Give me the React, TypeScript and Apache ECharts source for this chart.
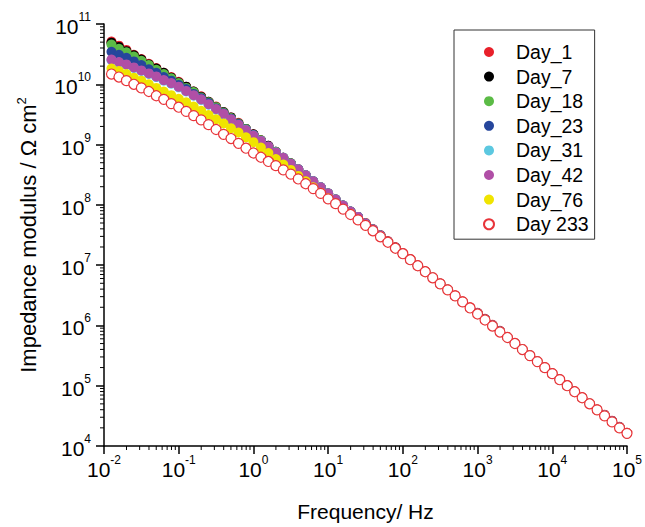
import { useEffect, useRef } from 'react';
import * as echarts from 'echarts';

const FONT = '"Liberation Sans", Arial, sans-serif';

const seriesNames = ['Day_1', 'Day_7', 'Day_18', 'Day_23', 'Day_31', 'Day_42', 'Day_76', 'Day 233'];
const seriesColors = ['#e8202a', '#000000', '#5bbb46', '#26469c', '#5cc8e0', '#b04fa6', '#f0e400', '#e8343a'];

// log10 of frequency (Hz) for each measured point
const freqExponents = [
  -1.9, -1.8, -1.7, -1.6, -1.5, -1.4, -1.3, -1.2, -1.1, -1.0,
  -0.9, -0.8, -0.7, -0.6, -0.5, -0.4, -0.3, -0.2, -0.1, 0.0,
  0.1, 0.2, 0.3, 0.4, 0.5, 0.6, 0.7, 0.8, 0.9, 1.0,
  1.1, 1.2, 1.3, 1.4, 1.5, 1.6, 1.7, 1.8, 1.9, 2.0,
  2.1, 2.2, 2.3, 2.4, 2.5, 2.6, 2.7, 2.8, 2.9, 3.0,
  3.1, 3.2, 3.3, 3.4, 3.5, 3.6, 3.7, 3.8, 3.9, 4.0,
  4.1, 4.2, 4.3, 4.4, 4.5, 4.6, 4.7, 4.8, 4.9, 5.0,
];

// log10 |Z| (Ohm cm2), low-frequency part (10^-1.9 .. 10^1.4 Hz)
const day1Low = [10.71, 10.64, 10.57, 10.49, 10.42, 10.34, 10.27, 10.19, 10.12, 10.04, 9.96, 9.88, 9.80, 9.71, 9.63, 9.54, 9.45, 9.36, 9.26, 9.17, 9.07, 8.98, 8.88, 8.78, 8.69, 8.59, 8.49, 8.39, 8.29, 8.19, 8.09, 7.99, 7.89, 7.80];
const day7Low = [10.69, 10.62, 10.55, 10.48, 10.41, 10.33, 10.26, 10.19, 10.11, 10.03, 9.96, 9.88, 9.79, 9.71, 9.62, 9.54, 9.45, 9.35, 9.26, 9.17, 9.07, 8.98, 8.88, 8.78, 8.69, 8.59, 8.49, 8.39, 8.29, 8.19, 8.09, 7.99, 7.89, 7.80];
const day18Low = [10.66, 10.59, 10.53, 10.46, 10.39, 10.32, 10.24, 10.17, 10.10, 10.02, 9.94, 9.87, 9.78, 9.70, 9.62, 9.53, 9.44, 9.35, 9.26, 9.16, 9.07, 8.97, 8.88, 8.78, 8.69, 8.59, 8.49, 8.39, 8.29, 8.19, 8.09, 7.99, 7.89, 7.80];
const day23Low = [10.54, 10.49, 10.44, 10.38, 10.32, 10.25, 10.19, 10.12, 10.06, 9.99, 9.92, 9.84, 9.77, 9.69, 9.60, 9.52, 9.43, 9.34, 9.25, 9.16, 9.06, 8.97, 8.87, 8.78, 8.68, 8.59, 8.49, 8.39, 8.29, 8.19, 8.09, 7.99, 7.89, 7.80];
const day31Low = [10.40, 10.36, 10.32, 10.27, 10.22, 10.17, 10.12, 10.06, 10.01, 9.95, 9.88, 9.81, 9.74, 9.66, 9.58, 9.50, 9.41, 9.32, 9.24, 9.15, 9.06, 8.96, 8.87, 8.78, 8.68, 8.59, 8.49, 8.39, 8.29, 8.19, 8.09, 7.99, 7.89, 7.80];
const day42Low = [10.41, 10.37, 10.33, 10.28, 10.23, 10.18, 10.13, 10.07, 10.02, 9.96, 9.89, 9.82, 9.75, 9.67, 9.59, 9.51, 9.42, 9.33, 9.24, 9.15, 9.06, 8.97, 8.87, 8.78, 8.68, 8.59, 8.49, 8.39, 8.29, 8.19, 8.09, 7.99, 7.89, 7.80];
// high-frequency part (10^1.5 .. 10^5 Hz) of Day_1
const day1High = [7.70, 7.60, 7.50, 7.40, 7.30, 7.20, 7.10, 7.00, 6.90, 6.80, 6.70, 6.60, 6.50, 6.40, 6.30, 6.21, 6.11, 6.01, 5.91, 5.81, 5.71, 5.61, 5.51, 5.41, 5.31, 5.21, 5.11, 5.01, 4.91, 4.81, 4.71, 4.61, 4.52, 4.42, 4.32, 4.22];
// high-frequency part shared by Day_7 .. Day_42
const highCommon = [7.69, 7.59, 7.49, 7.39, 7.29, 7.19, 7.09, 6.99, 6.89, 6.79, 6.69, 6.59, 6.49, 6.39, 6.29, 6.20, 6.10, 6.00, 5.90, 5.80, 5.70, 5.60, 5.50, 5.40, 5.30, 5.20, 5.10, 5.00, 4.90, 4.80, 4.70, 4.60, 4.51, 4.41, 4.31, 4.21];
// Day_76, full range
const day76 = [
  10.26, 10.22, 10.17, 10.11, 10.06, 10.00, 9.94, 9.88, 9.82, 9.76,
  9.70, 9.63, 9.56, 9.49, 9.42, 9.35, 9.27, 9.20, 9.12, 9.04,
  8.95, 8.86, 8.76, 8.67, 8.58, 8.48, 8.39, 8.29, 8.20, 8.11,
  8.02, 7.93, 7.85, 7.75, 7.66, 7.57, 7.47, 7.38, 7.28, 7.19,
  7.09, 6.99, 6.89, 6.79, 6.69, 6.59, 6.49, 6.39, 6.29, 6.19,
  6.09, 5.99, 5.89, 5.80, 5.70, 5.60, 5.50, 5.40, 5.30, 5.20,
  5.10, 5.00, 4.90, 4.80, 4.70, 4.60, 4.50, 4.40, 4.30, 4.21,
];
// Day 233, full range
const day233 = [
  10.17, 10.12, 10.06, 10.00, 9.94, 9.88, 9.81, 9.75, 9.68, 9.62,
  9.55, 9.48, 9.41, 9.33, 9.25, 9.17, 9.10, 9.02, 8.94, 8.86,
  8.79, 8.72, 8.65, 8.58, 8.51, 8.43, 8.35, 8.27, 8.19, 8.10,
  8.02, 7.93, 7.84, 7.75, 7.66, 7.57, 7.47, 7.38, 7.28, 7.19,
  7.09, 6.99, 6.89, 6.79, 6.69, 6.59, 6.49, 6.39, 6.29, 6.19,
  6.09, 5.99, 5.89, 5.80, 5.70, 5.60, 5.50, 5.40, 5.30, 5.20,
  5.10, 5.00, 4.90, 4.80, 4.70, 4.60, 4.50, 4.40, 4.30, 4.21,
];

const seriesLogZ = [
  [...day1Low, ...day1High],
  [...day7Low, ...highCommon],
  [...day18Low, ...highCommon],
  [...day23Low, ...highCommon],
  [...day31Low, ...highCommon],
  [...day42Low, ...highCommon],
  day76,
  day233,
];

const X_MIN = 1e-2;
const X_MAX = 1e5;
const Y_MIN = 1e4;
const Y_MAX = 1e11;

const xMinorTicks: number[][] = [];
for (let k = -2; k < 5; k++) for (let m = 2; m <= 9; m++) xMinorTicks.push([m * Math.pow(10, k), Y_MIN]);
const yMinorTicks: number[][] = [];
for (let k = 4; k < 11; k++) for (let m = 2; m <= 9; m++) yMinorTicks.push([X_MIN, m * Math.pow(10, k)]);

const supFormatter = (v: number) => `{b|10}{s|${Math.round(Math.log10(v))}}`;
const richTick = {
  b: { fontSize: 21, lineHeight: 26, verticalAlign: 'bottom', fontFamily: FONT, color: '#000' },
  s: { fontSize: 12, lineHeight: 14, verticalAlign: 'top', fontFamily: FONT, color: '#000' },
};

function buildOption() {
  const scatter = seriesNames.map((name, i) => {
    const hollow = i === seriesNames.length - 1;
    return {
      name,
      type: 'scatter',
      symbol: 'circle',
      symbolSize: 10,
      data: freqExponents.map((fe, j) => [Math.pow(10, fe), Math.pow(10, seriesLogZ[i][j])]),
      itemStyle: hollow
        ? { color: '#ffffff', borderColor: seriesColors[i], borderWidth: 1.2, opacity: 1 }
        : { color: seriesColors[i], opacity: 1 },
      emphasis: { disabled: true },
      z: 2,
    };
  });
  const tickLine = (dx2: number, dy2: number) => (params: any, api: any) => {
    const p = api.coord([api.value(0), api.value(1)]);
    return {
      type: 'line',
      shape: { x1: p[0], y1: p[1], x2: p[0] + dx2, y2: p[1] + dy2 },
      style: { stroke: '#000', lineWidth: 1 },
    };
  };
  return {
    animation: false,
    backgroundColor: '#ffffff',
    textStyle: { fontFamily: FONT },
    grid: { left: 104, right: 13, top: 24, bottom: 75, containLabel: false },
    legend: {
      orient: 'vertical',
      left: 454,
      top: 30,
      padding: [12, 6, 5, 29],
      itemGap: 4.6,
      itemWidth: 10,
      itemHeight: 10,
      borderColor: '#333',
      borderWidth: 1,
      backgroundColor: '#fff',
      textStyle: { fontSize: 19.5, lineHeight: 20, color: '#000', fontFamily: FONT, padding: [0, 0, 0, 17] },
      data: seriesNames.map((name) => ({ name, icon: 'circle' })),
    },
    xAxis: {
      type: 'log',
      logBase: 10,
      min: X_MIN,
      max: X_MAX,
      splitNumber: 7,
      axisLine: { show: true, onZero: false, lineStyle: { color: '#000', width: 1.5 } },
      axisTick: { show: true, inside: false, length: 8, lineStyle: { color: '#000', width: 1.5 } },
      splitLine: { show: false },
      minorTick: { show: false },
      axisLabel: { formatter: supFormatter, margin: 8, rich: richTick },
      name: 'Frequency/ Hz',
      nameLocation: 'middle',
      nameGap: 55,
      nameTextStyle: { fontSize: 21, color: '#000', fontFamily: FONT },
    },
    yAxis: {
      type: 'log',
      logBase: 10,
      min: Y_MIN,
      max: Y_MAX,
      splitNumber: 7,
      axisLine: { show: true, onZero: false, lineStyle: { color: '#000', width: 1.5 } },
      axisTick: { show: true, inside: false, length: 8, lineStyle: { color: '#000', width: 1.5 } },
      splitLine: { show: false },
      minorTick: { show: false },
      axisLabel: { formatter: supFormatter, margin: 13, rich: richTick },
      name: 'Impedance modulus / Ω cm{sup|2}',
      nameLocation: 'middle',
      nameGap: 63,
      nameTextStyle: {
        fontSize: 22,
        lineHeight: 26,
        color: '#000',
        fontFamily: FONT,
        rich: { sup: { fontSize: 13, lineHeight: 13, verticalAlign: 'top', fontFamily: FONT, color: '#000' } },
      },
    },
    series: [
      ...scatter,
      { type: 'custom', silent: true, clip: false, z: 5, data: xMinorTicks, renderItem: tickLine(0, 4) },
      { type: 'custom', silent: true, clip: false, z: 5, data: yMinorTicks, renderItem: tickLine(-4, 0) },
    ],
  };
}

export default function App() {
  const ref = useRef<HTMLDivElement>(null);
  useEffect(() => {
    document.body.style.margin = '0';
    const chart = echarts.init(ref.current as HTMLDivElement, null, { renderer: 'svg' });
    chart.setOption(buildOption() as any);
    return () => chart.dispose();
  }, []);
  return <div ref={ref} style={{ width: 645, height: 527 }} />;
}
